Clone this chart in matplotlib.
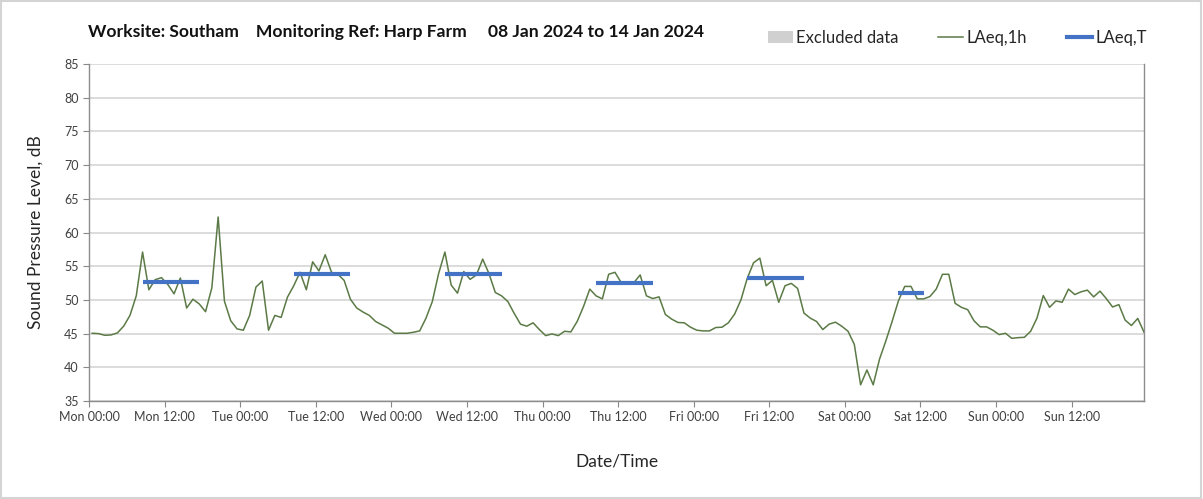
import numpy as np
import matplotlib
matplotlib.use("Agg")
import matplotlib.pyplot as plt
from matplotlib.patches import Patch, Rectangle
from matplotlib.lines import Line2D

plt.rcParams['font.family'] = ['Lato', 'DejaVu Sans']

# hourly LAeq,1h values, Mon 00:00 .. Sun 23:00 (plotted at mid-hour)
mon = [45.05, 45.0, 44.75, 44.8, 45.1, 46.1, 47.7, 50.6, 57.1, 51.5, 53.0, 53.3,
       52.3, 50.9, 53.25, 48.8, 50.1, 49.4, 48.25, 51.8, 62.3, 49.8, 46.9, 45.7]
tue = [45.5, 47.7, 51.9, 52.8, 45.5, 47.7, 47.4, 50.4, 52.1, 54.1, 51.5, 55.65,
       54.3, 56.7, 54.1, 53.8, 52.9, 50.1, 48.8, 48.2, 47.7, 46.8, 46.3, 45.8]
wed = [45.05, 45.05, 45.05, 45.2, 45.4, 47.3, 49.75, 53.9, 57.1, 52.2, 51.0, 54.2,
       53.05, 53.7, 56.05, 53.9, 51.1, 50.6, 49.75, 48.0, 46.4, 46.1, 46.6, 45.6]
thu = [44.7, 44.95, 44.7, 45.35, 45.25, 46.8, 49.0, 51.6, 50.6, 50.15, 53.8, 54.1,
       52.55, 52.6, 52.55, 53.7, 50.6, 50.2, 50.45, 47.85, 47.15, 46.65, 46.6, 45.95]
fri = [45.5, 45.4, 45.4, 45.9, 45.95, 46.6, 47.9, 50.0, 53.2, 55.5, 56.2, 52.1,
       52.9, 49.65, 52.1, 52.45, 51.7, 48.05, 47.3, 46.8, 45.6, 46.4, 46.7, 46.1]
sat = [45.35, 43.4, 37.4, 39.6, 37.4, 41.2, 43.9, 46.8, 49.85, 52.0, 52.0, 50.15,
       50.15, 50.5, 51.6, 53.8, 53.8, 49.5, 48.9, 48.55, 46.9, 46.0, 46.0, 45.5]
sun = [44.85, 45.05, 44.3, 44.4, 44.45, 45.35, 47.3, 50.65, 48.9, 49.85, 49.65, 51.6,
       50.8, 51.2, 51.45, 50.45, 51.3, 50.2, 48.95, 49.3, 47.0, 46.2, 47.25, 45.2]
laeq_1h = mon + tue + wed + thu + fri + sat + sun
hours = np.arange(len(laeq_1h)) + 0.5

# LAeq,T periods: (start hour, end hour, level)
period_start = [8.5, 32.5, 56.5, 80.5, 104.5, 128.5]
period_end = [17.5, 41.5, 65.5, 89.5, 113.5, 132.5]
laeq_t = [52.6, 53.9, 53.9, 52.5, 53.2, 51.0]

day_names = ["Mon", "Tue", "Wed", "Thu", "Fri", "Sat", "Sun"]
tick_labels = [f"{d} {t}" for d in day_names for t in ("00:00", "12:00")]
tick_pos = np.arange(len(tick_labels)) * 12

fig = plt.figure(figsize=(12.03, 4.99), dpi=100)
fig.patches.append(Rectangle((0.001, 0.002), 0.997, 0.995, transform=fig.transFigure,
                             fill=False, edgecolor='#d4d4d4', linewidth=1.5))
ax = fig.add_axes([0.074, 0.1964, 0.877, 0.6753])

line_col = '#5b7a46'
blue = '#4472c4'
ax.plot(hours, laeq_1h, color=line_col, linewidth=1.1, zorder=3)
for s, e, v in zip(period_start, period_end, laeq_t):
    ax.plot([s, e], [v, v], color=blue, linewidth=3, solid_capstyle='butt', zorder=4)

ax.set_xlim(0, 167.5)
ax.set_ylim(35, 85)
ax.set_yticks(range(35, 86, 5))
ax.set_xticks(tick_pos)
ax.set_xticklabels(tick_labels)
ax.set_xticks(np.arange(0, 168, 24), minor=True)
ax.tick_params(axis='x', which='minor', length=0)
ax.tick_params(axis='both', which='major', labelsize=9, colors='#404040',
               length=4, width=0.8)
ax.tick_params(axis='both', which='major', color='#888888')

ax.grid(axis='y', color='#d9d9d9', linewidth=1.3)
ax.grid(axis='x', which='minor', color='#d9d9d9', linewidth=1.3)
ax.set_axisbelow(True)
for sp in ['left', 'bottom', 'right']:
    ax.spines[sp].set_color('#8c8c8c')
    ax.spines[sp].set_linewidth(1.0)
ax.spines['top'].set_visible(False)

ax.set_ylabel("Sound Pressure Level, dB", fontsize=12.5, color='#262626', labelpad=15)
ax.set_xlabel("Date/Time", fontsize=12.5, color='#262626', labelpad=22)

fig.text(88 / 1203, 1 - 32 / 499,
         "Worksite: Southam    Monitoring Ref: Harp Farm     08 Jan 2024 to 14 Jan 2024",
         fontsize=12.6, fontweight='bold', ha='left', va='center', color='#111111')

handles = [Patch(facecolor='#d0d0d0', edgecolor='none'),
           Line2D([], [], color=line_col, linewidth=1.1),
           Line2D([], [], color=blue, linewidth=3)]
fig.legend(handles, ["Excluded data", "LAeq,1h", "LAeq,T"], ncol=3, frameon=False,
           loc='center right', bbox_to_anchor=(1162 / 1203, 1 - 38 / 499),
           fontsize=12, handlelength=1.5, columnspacing=2.4, handletextpad=0.2,
           labelcolor='#262626')

fig.savefig("out.png", dpi=100)
